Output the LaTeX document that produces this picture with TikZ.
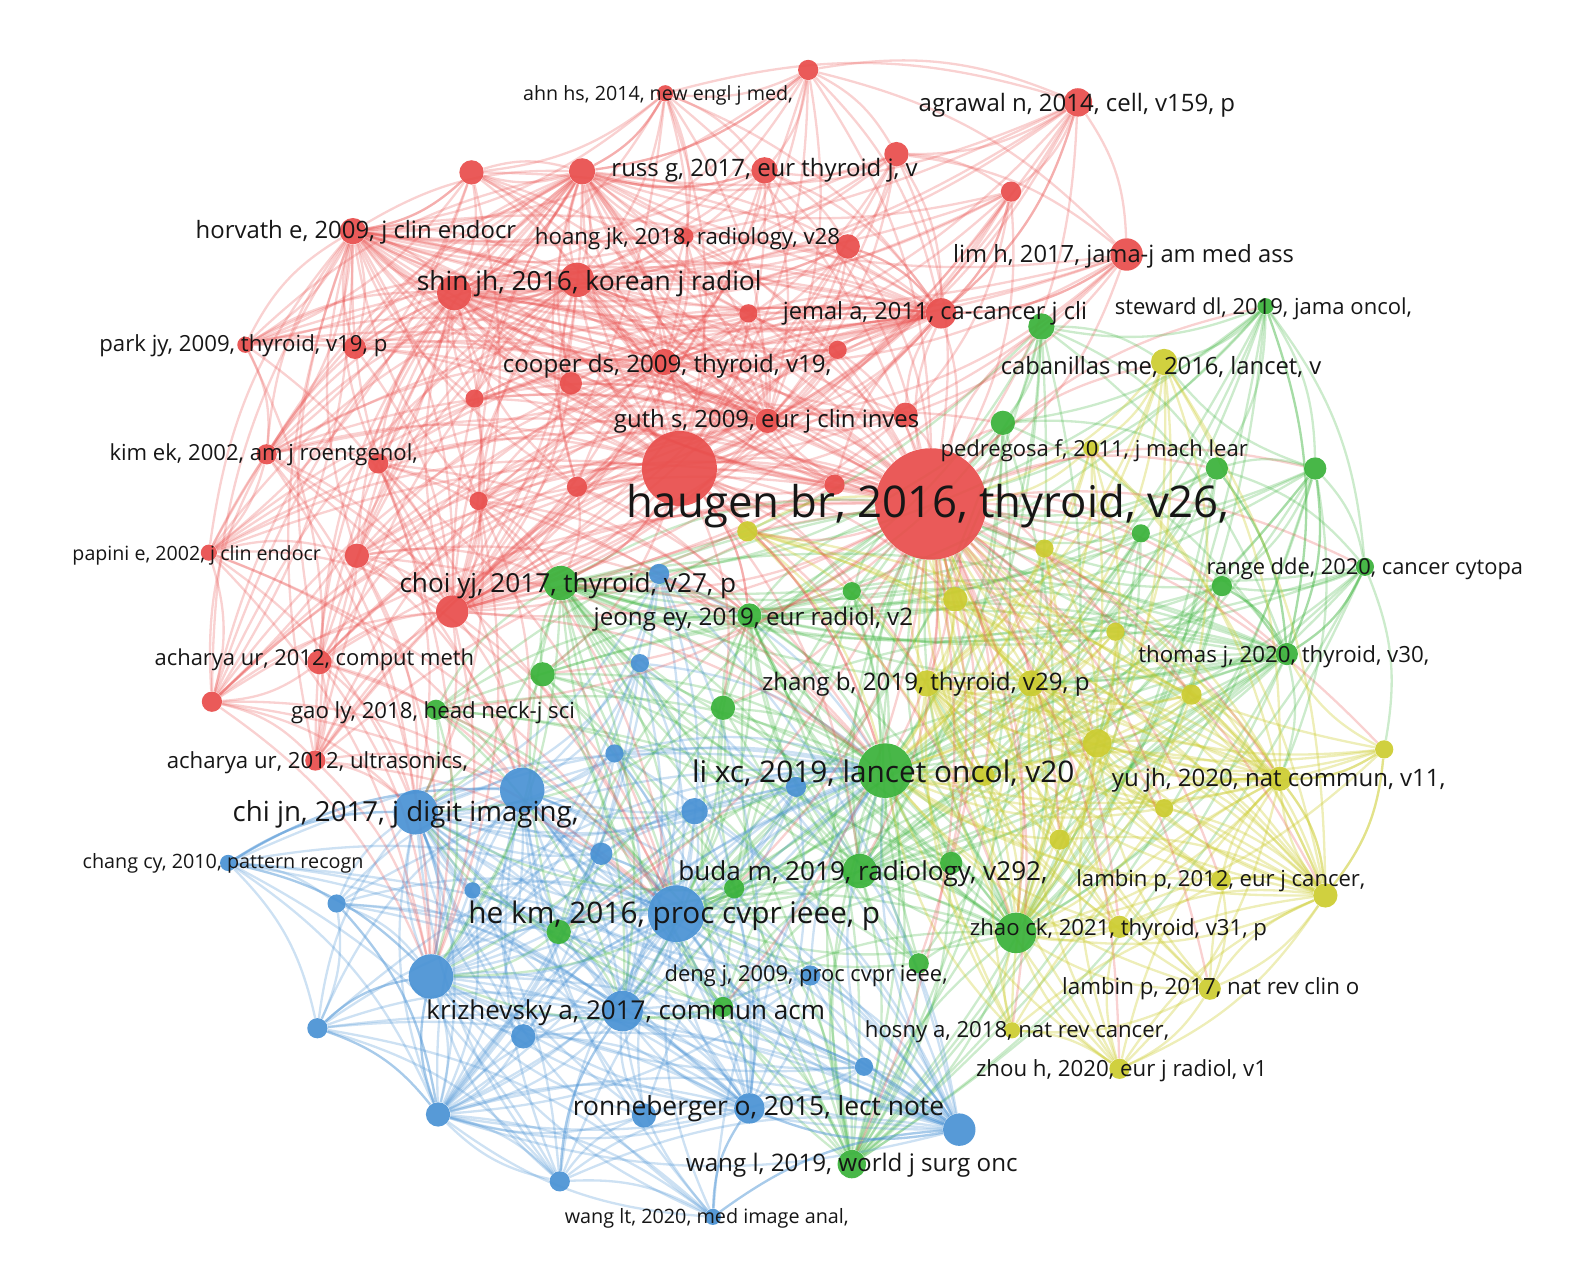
\documentclass[tikz,border=0pt]{standalone}
\usepackage{fontspec}
\setmainfont{Open Sans}
\usepackage{graphicx}
\pgfdeclarelayer{edges}
\pgfsetlayers{edges,main}
\definecolor{cR}{RGB}{232,78,76}
\definecolor{cG}{RGB}{58,178,58}
\definecolor{cB}{RGB}{74,146,212}
\definecolor{cY}{RGB}{204,204,48}
\definecolor{txt}{RGB}{22,22,22}
\newlength\pxu \setlength\pxu{0.02cm}
\newcommand\rb[2]{\resizebox{#1\pxu}{!}{#2}}
\begin{document}
\begin{tikzpicture}[x=0.02cm,y=-0.02cm,
  bub/.style={circle,inner sep=0pt,fill opacity=0.93},
  lab/.style={inner sep=0pt,text=txt,anchor=center,yshift=-0.05cm},
  eR/.style={draw=cR,draw opacity=0.26,line width=1.3pt},
  eG/.style={draw=cG,draw opacity=0.26,line width=1.3pt},
  eB/.style={draw=cB,draw opacity=0.28,line width=1.3pt},
  eY/.style={draw=cY,draw opacity=0.34,line width=1.3pt},
  bl/.style={bend left=16}]
\path[use as bounding box] (0,0) rectangle (1568,1263);
% ---------- red nodes
\foreach \n/\x/\y/\r in {r1/797/69/10,r2/656/92/8,r3/1063/101/14,r4/884/152/12,r5/754/168/13,r6/574/169/13,r7/465/170/12,r8/997/189/10,r9/348/228/13,r10/676/233/8,r11/836/243/12,r12/1111/251/16,r13/448/289/17,r14/569/276/17,r15/738/309/9,r16/928/309/15,r17/242/340/8,r18/350/343/11,r19/826/345/9,r20/655/357/13,r21/563/378/11,r22/468/393/9,r23/757/415/12,r24/893/409/12,r25/263/448/10,r26/373/457/10,r27/670/462/37,r28/918/497/55,r29/823/478/10,r30/472/494/9,r31/569/480/10,r32/206/545/8,r33/352/548/12,r34/446/603/16,r35/315/653/12,r36/209/692/10,r37/311/750/10}
  \node[bub,fill=cR,minimum size=\r*0.04cm] (\n) at (\x,\y) {};
% ---------- green nodes
\foreach \n/\x/\y/\r in {g1/1248/302/8,g2/1027/322/13,g3/989/417/12,g4/1200/462/11,g5/1297/462/11,g6/1125/526/9,g7/1346/559/9,g8/1205/578/10,g9/840/583/9,g10/553/575/17,g11/739/607/12,g12/535/665/12,g13/1269/645/11,g14/713/698/12,g15/430/700/10,g16/873/760/27,g17/938/851/11,g18/848/859/17,g19/724/876/10,g20/551/919/12,g21/1002/920/20,g22/906/950/10,g23/713/993/10,g24/840/1148/14}
  \node[bub,fill=cG,minimum size=\r*0.04cm] (\n) at (\x,\y) {};
% ---------- yellow nodes
\foreach \n/\x/\y/\r in {y1/1148/357/13,y2/1076/442/8,y3/737/524/10,y4/1030/541/9,y5/942/591/12,y6/1100/623/9,y7/914/674/13,y8/1017/674/13,y9/1175/685/10,y10/1082/733/14,y11/1365/739/9,y12/971/765/10,y13/1262/768/12,y14/1148/797/9,y15/1045/828/10,y16/1204/868/10,y17/1307/883/12,y18/1104/914/11,y19/1193/975/11,y20/998/1016/8,y21/1104/1054/10}
  \node[bub,fill=cY,minimum size=\r*0.04cm] (\n) at (\x,\y) {};
% ---------- blue nodes
\foreach \n/\x/\y/\r in {b1/650/566/10,b2/631/654/9,b3/606/743/9,b4/515/779/22,b5/785/776/10,b6/410/801/22,b7/685/800/13,b8/593/842/11,b9/225/851/8,b10/466/878/8,b11/332/891/9,b12/667/901/28,b13/425/963/22,b14/799/962/10,b15/614/997/20,b16/313/1014/10,b17/516/1022/12,b18/852/1052/9,b19/739/1093/15,b20/635/1100/12,b21/432/1099/12,b22/946/1114/16,b23/552/1165/10,b24/703/1200/8}
  \node[bub,fill=cB,minimum size=\r*0.04cm] (\n) at (\x,\y) {};
% ---------- edges
\begin{pgfonlayer}{edges}
\foreach \i in {1,...,37}{\foreach \h in {r28,r27,r14,r13,r20,r9,r34,r6,r16,r23}{%
  \edef\cur{r\i}\edef\hh{\h}\ifx\cur\hh\else\draw[eR] (\cur) to[bl] (\hh);\fi}}
\foreach \i in {1,...,24}{\foreach \h in {g16,g18,g21,g10,g24,g11,r28,b12,g13}{%
  \edef\cur{g\i}\edef\hh{\h}\ifx\cur\hh\else\draw[eG] (\cur) to[bl] (\hh);\fi}}
\foreach \i in {1,...,24}{\foreach \h in {b12,b6,b15,b4,b13,b19,g16,b22,b21}{%
  \edef\cur{b\i}\edef\hh{\h}\ifx\cur\hh\else\draw[eB] (\cur) to[bl] (\hh);\fi}}
\foreach \i in {1,...,21}{\foreach \h in {y10,y13,y7,g16,g21,r28,y8,y17}{%
  \edef\cur{y\i}\edef\hh{\h}\ifx\cur\hh\else\draw[eY] (\cur) to[bl] (\hh);\fi}}
\foreach \i in {1,...,24}{\draw[eR] (r28) to[bl] (g\i);}
\foreach \i in {1,...,21}{\draw[eR] (r28) to[bl] (y\i);}
\foreach \a in {g3,g9,g10,g11,g12,g14,g16,g18,g21,y3,y5,y7}{\draw[eR] (r27) to[bl] (\a);}
\foreach \a in {r32,r33,r34,r35,r36,r37,r25,r26,r30}{\foreach \h in {b6,b12,b4,b13}{\draw[eR] (\a) to[bl] (\h);}}
\foreach \a in {g10,g12,g14,g15,g19,g20,g23}{\foreach \h in {b6,b13,b15}{\draw[eG] (\a) to[bl] (\h);}}
\foreach \a in {r27,r34,r33,r31,r30,r26}{\foreach \h in {g10,g16,g11}{\draw[eR] (\a) to[bl] (\h);}}
\foreach \a/\b in {r1/r2,r1/r3,r1/r4,r1/r5,r1/r6,r2/r6,r2/r5,r2/r7,r3/r4,r3/r8,r3/r12,r3/r16,r4/r8,r4/r5,r4/r11,r4/r12,r6/r7,r5/r6,r7/r9,r7/r17,r9/r17,r9/r18,r9/r25,r17/r25,r17/r18,r25/r32,r25/r26,r32/r36,r32/r33,r36/r37,r35/r36,r35/r37,r33/r35,r8/r16,r12/r16,r11/r16,r6/r13,r5/r11,r2/r10,r36/r25,r12/r24,r8/r24,r7/r32,r9/r36,r17/r37,r13/r36,r7/r25,r6/r17,r1/r12,r2/r3}
  \draw[eR] (\a) to[bl] (\b);
\foreach \a/\b in {g1/g2,g1/g4,g1/g5,g1/g13,g5/g7,g4/g5,g4/g7,g5/g13,g7/g8,g2/g3,g2/g4,g3/g4,g7/g13,g8/g13,g1/y1,g2/y1,g5/y1,g1/g3,g13/y13,g7/y11,g5/g8,g4/g13,g1/g7,g5/y13}
  \draw[eG] (\a) to[bl] (\b);
\foreach \a/\b in {y11/y13,y13/y17,y16/y17,y17/y19,y19/y21,y21/y18,y16/y19,y14/y13,y13/y9,y9/y6,y19/y20,y20/y21,y17/y21,y11/g13,y1/y2,y1/y9,y13/y21,y11/y17}
  \draw[eY] (\a) to[bl] (\b);
\foreach \a/\b in {b9/b11,b9/b6,b9/b16,b16/b21,b21/b23,b23/b24,b24/b22,b22/b18,b16/b13,b21/b13,b23/b15,b24/b19,b11/b16,b9/b13,b23/b20,b22/b14,b22/b19,b16/b23,b9/b4,b21/b24,b9/b23,b16/b24,b11/b21,b6/b23}
  \draw[eB] (\a) to[bl] (\b);
\end{pgfonlayer}
% ---------- labels
\node[lab] (L1) at (649,92) {\rb{266}{ahn hs, 2014, new engl j med,}};
\node[lab] (L2) at (1062,101) {\rb{312}{agrawal n, 2014, cell, v159, p}};
\node[lab] (L3) at (754,165) {\rb{302}{russ g, 2017, eur thyroid j, v}};
\node[lab] (L4) at (351,227) {\rb{316}{horvath e, 2009, j clin endocr}};
\node[lab] (L5) at (678,233) {\rb{301}{hoang jk, 2018, radiology, v28}};
\node[lab] (L6) at (1108,250) {\rb{336}{lim h, 2017, jama-j am med ass}};
\node[lab] (L7) at (581,277) {\rb{340}{shin jh, 2016, korean j radiol}};
\node[lab] (L8) at (922,307) {\rb{300}{jemal a, 2011, ca-cancer j cli}};
\node[lab] (L9) at (1246,302) {\rb{293}{steward dl, 2019, jama oncol,}};
\node[lab] (L10) at (240,338) {\rb{284}{park jy, 2009, thyroid, v19, p}};
\node[lab] (L11) at (658,359) {\rb{324}{cooper ds, 2009, thyroid, v19,}};
\node[lab] (L12) at (1145,359) {\rb{316}{cabanillas me, 2016, lancet, v}};
\node[lab] (L13) at (756,413) {\rb{301}{guth s, 2009, eur j clin inves}};
\node[lab] (L14) at (1079,442) {\rb{303}{pedregosa f, 2011, j mach lear}};
\node[lab] (L15) at (260,446) {\rb{304}{kim ek, 2002, am j roentgenol,}};
\node[lab] (L16) at (915,497) {\rb{595}{haugen br, 2016, thyroid, v26,}};
\node[lab] (L17) at (194,545) {\rb{245}{papini e, 2002, j clin endocr}};
\node[lab] (L18) at (1346,558) {\rb{312}{range dde, 2020, cancer cytopa}};
\node[lab] (L19) at (560,575) {\rb{332}{choi yj, 2017, thyroid, v27, p}};
\node[lab] (L20) at (743,608) {\rb{315}{jeong ey, 2019, eur radiol, v2}};
\node[lab] (L21) at (310,648) {\rb{315}{acharya ur, 2012, comput meth}};
\node[lab] (L22) at (1266,645) {\rb{287}{thomas j, 2020, thyroid, v30,}};
\node[lab] (L23) at (913,672) {\rb{323}{zhang b, 2019, thyroid, v29, p}};
\node[lab] (L24) at (427,700) {\rb{280}{gao ly, 2018, head neck-j sci}};
\node[lab] (L25) at (313,750) {\rb{297}{acharya ur, 2012, ultrasonics,}};
\node[lab] (L26) at (871,760) {\rb{377}{li xc, 2019, lancet oncol, v20}};
\node[lab] (L27) at (1261,767) {\rb{329}{yu jh, 2020, nat commun, v11,}};
\node[lab] (L28) at (400,801) {\rb{341}{chi jn, 2017, j digit imaging,}};
\node[lab] (L29) at (220,849) {\rb{277}{chang cy, 2010, pattern recogn}};
\node[lab] (L30) at (851,859) {\rb{364}{buda m, 2019, radiology, v292,}};
\node[lab] (L31) at (1204,866) {\rb{285}{lambin p, 2012, eur j cancer,}};
\node[lab] (L32) at (665,901) {\rb{406}{he km, 2016, proc cvpr ieee, p}};
\node[lab] (L33) at (1103,914) {\rb{293}{zhao ck, 2021, thyroid, v31, p}};
\node[lab] (L34) at (795,960) {\rb{279}{deng j, 2009, proc cvpr ieee,}};
\node[lab] (L35) at (1194,973) {\rb{293}{lambin p, 2017, nat rev clin o}};
\node[lab] (L36) at (617,996) {\rb{393}{krizhevsky a, 2017, commun acm}};
\node[lab] (L37) at (1003,1015) {\rb{300}{hosny a, 2018, nat rev cancer,}};
\node[lab] (L38) at (1106,1053) {\rb{287}{zhou h, 2020, eur j radiol, v1}};
\node[lab] (L39) at (748,1091) {\rb{366}{ronneberger o, 2015, lect note}};
\node[lab] (L40) at (840,1147) {\rb{327}{wang l, 2019, world j surg onc}};
\node[lab] (L41) at (697,1199) {\rb{280}{wang lt, 2020, med image anal,}};
\end{tikzpicture}
\end{document}
